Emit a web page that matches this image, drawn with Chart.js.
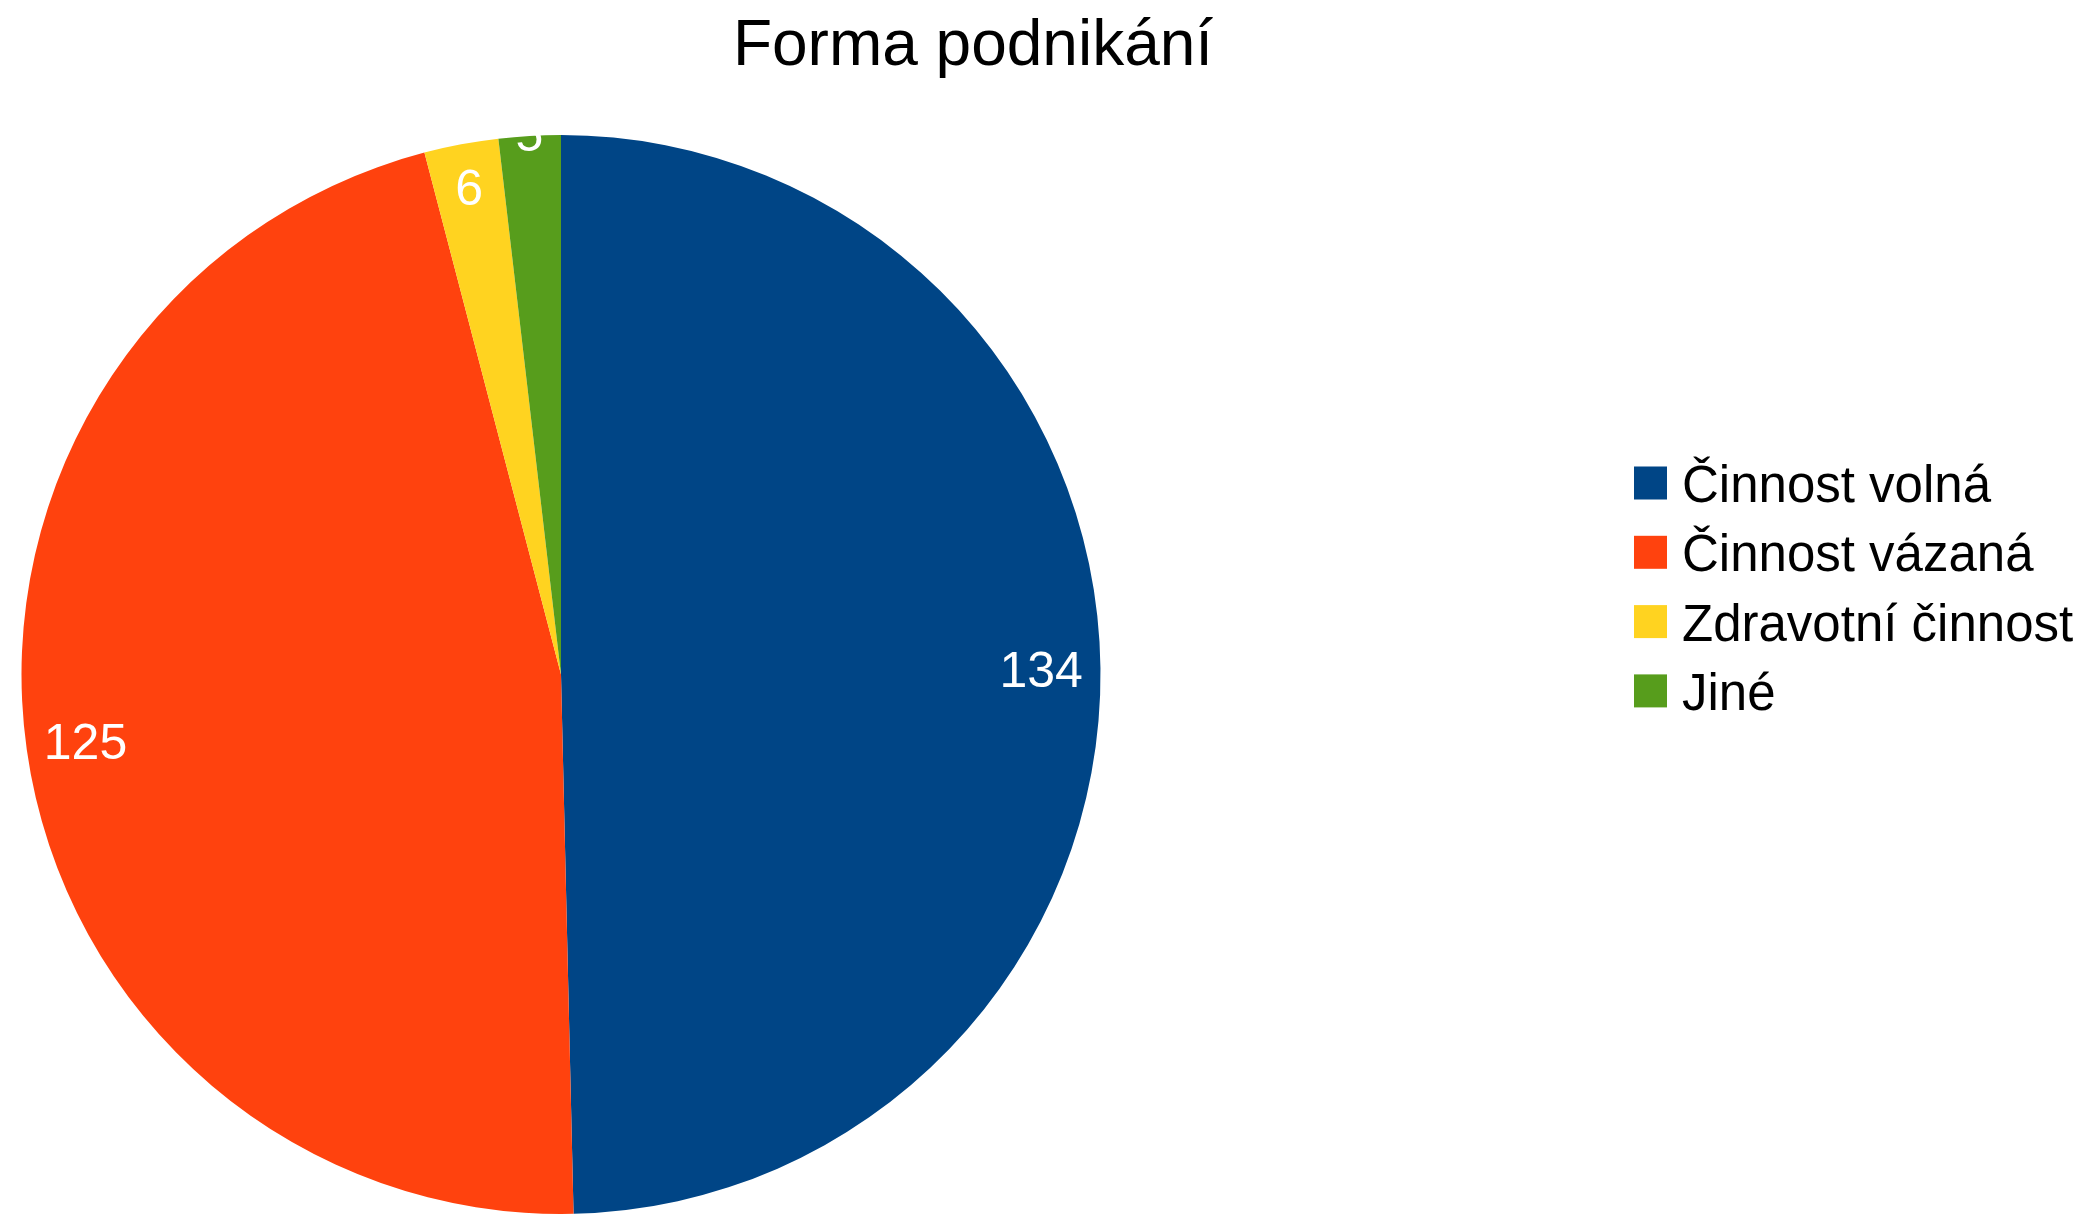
<!DOCTYPE html>
<html>
<head>
<meta charset="utf-8">
<script src="https://cdn.jsdelivr.net/npm/chart.js@4"></script>
<style>
  html, body { margin: 0; padding: 0; background: #fff; overflow: hidden; }
  canvas { display: block; }
</style>
</head>
<body>
<canvas id="pie" width="2094" height="1214"></canvas>
<script>
// Forma podnikání
const title = 'Forma podnikání';
const categories = ['Činnost volná', 'Činnost vázaná', 'Zdravotní činnost', 'Jiné'];
const counts = [134, 125, 6, 5];
const colors = ['#004586', '#ff420e', '#ffd320', '#579d1c'];

const FONT = '"Liberation Sans", Arial, sans-serif';

// white value labels, pushed to the rim if they collide
const valueLabels = {
  id: 'valueLabels',
  afterDatasetsDraw(chart) {
    const ctx = chart.ctx;
    const meta = chart.getDatasetMeta(0);
    const placed = [];
    ctx.save();
    ctx.font = '50px ' + FONT;
    ctx.fillStyle = '#ffffff';
    ctx.textAlign = 'center';
    ctx.textBaseline = 'alphabetic';
    meta.data.forEach((arc, i) => {
      const p = arc.getProps(['x', 'y', 'startAngle', 'endAngle', 'outerRadius'], true);
      const mid = (p.startAngle + p.endAngle) / 2;
      // thin slices get their label a bit further out
      let r = p.outerRadius * ((p.endAngle - p.startAngle) < 0.3 ? 0.92 : 0.89);
      let x = p.x + Math.cos(mid) * r;
      let y = p.y + Math.sin(mid) * r;
      const hit = placed.some(q => Math.hypot(q.x - x, q.y - y) < 70);
      if (hit) {
        r = p.outerRadius * 1.006;
        x = p.x + Math.cos(mid) * r;
        y = p.y + Math.sin(mid) * r;
      }
      placed.push({ x, y });
      ctx.fillText(String(counts[i]), x, y + 18);
    });
    ctx.restore();
  }
};

// title and legend, placed like the original office chart
const sideLegend = {
  id: 'sideLegend',
  afterDraw(chart) {
    const ctx = chart.ctx;
    ctx.save();
    ctx.fillStyle = '#000000';
    ctx.font = '64px ' + FONT;
    ctx.textAlign = 'center';
    ctx.textBaseline = 'alphabetic';
    ctx.fillText(title, 973, 65);

    ctx.font = '51px ' + FONT;
    ctx.textAlign = 'left';
    categories.forEach((name, i) => {
      const cy = 483 + i * 69.3;
      ctx.fillStyle = colors[i];
      ctx.fillRect(1634, cy - 16.5, 33, 33);
      ctx.fillStyle = '#000000';
      ctx.fillText(name, 1682, cy + 19);
    });
    ctx.restore();
  }
};

new Chart(document.getElementById('pie'), {
  type: 'pie',
  data: {
    labels: categories,
    datasets: [{
      data: counts,
      backgroundColor: colors,
      borderWidth: 0
    }]
  },
  options: {
    responsive: false,
    animation: false,
    layout: {
      padding: { top: 135, bottom: 0, left: 0, right: 972 }
    },
    plugins: {
      legend: { display: false },
      title: { display: false },
      tooltip: { enabled: false }
    }
  },
  plugins: [valueLabels, sideLegend]
});
</script>
</body>
</html>
